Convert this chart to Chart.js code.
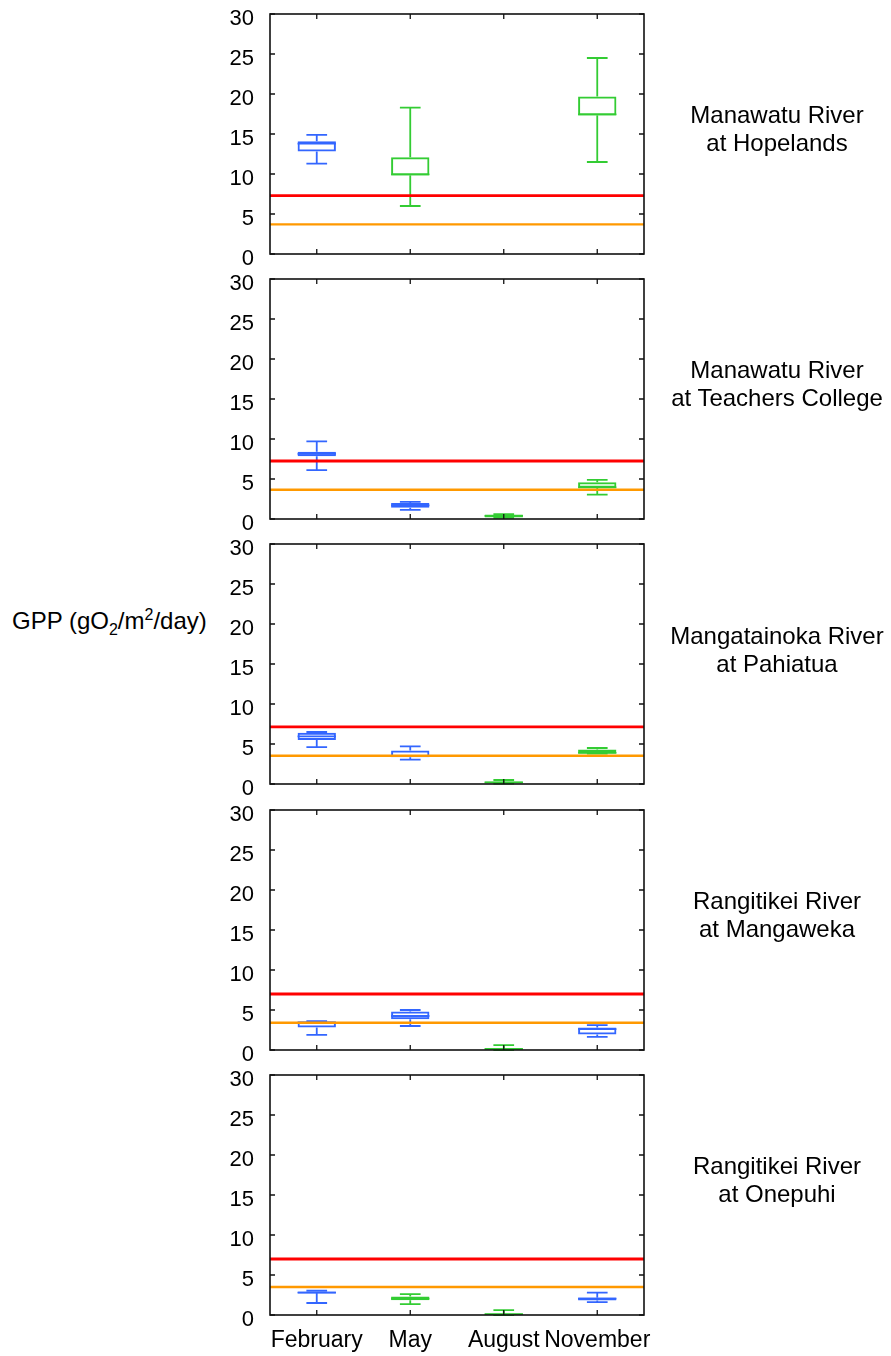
<!DOCTYPE html>
<html>
<head>
<meta charset="utf-8">
<script src="https://cdn.jsdelivr.net/npm/chart.js@4.4.1/dist/chart.umd.min.js"></script>
<style>
  body { margin: 0; background: #fff; }
  #page { position: relative; width: 891px; height: 1356px; overflow: hidden;
          font-family: 'Liberation Sans', Arial, sans-serif; color: #000; }
  canvas { position: absolute; left: 0; }
  .site { position: absolute; left: 657px; width: 240px; text-align: center;
          font-size: 24px; line-height: 28px; white-space: nowrap; }
  #ytitle { position: absolute; left: 12px; top: 607px; font-size: 24px; line-height: 28px; white-space: nowrap; }
  #ytitle sub, #ytitle sup { font-size: 16px; line-height: 0; }
</style>
</head>
<body>
<div id="page">
  <div id="ytitle">GPP (gO<sub>2</sub>/m<sup>2</sup>/day)</div>
</div>
<script>
// categories + panel names
const months = ['February', 'May', 'August', 'November'];
const sites = [
  ['Manawatu River', 'at Hopelands'],
  ['Manawatu River', 'at Teachers College'],
  ['Mangatainoka River', 'at Pahiatua'],
  ['Rangitikei River', 'at Mangaweka'],
  ['Rangitikei River', 'at Onepuhi'],
];
const yTicks = [0, 5, 10, 15, 20, 25, 30];

// box plot stats, one row per site (null = no sample)
const whiskerLow  = [[11.3, 6.0, null, 11.5], [6.1, 1.15, 0.15, 3.05], [4.6, 3.05, 0.05, 3.8], [1.9, 3.0, 0.0, 1.65], [1.5, 1.35, 0.0, 1.6]];
const quart1      = [[12.8, 9.8, null, 17.3], [7.85, 1.4, 0.2, 3.9],  [5.5, 3.35, 0.1, 3.8],  [2.8, 3.85, 0.05, 1.95], [2.7, 1.85, 0.05, 1.8]];
const median      = [[13.8, 9.95, null, 17.45], [8.15, 1.7, 0.4, 3.95], [5.95, 3.5, 0.2, 3.9], [3.45, 4.25, 0.15, 2.6], [2.8, 2.05, 0.1, 2.05]];
const quart3      = [[14.1, 12.1, null, 19.7], [8.4, 2.0, 0.55, 4.6],  [6.4, 4.2, 0.3, 4.3],   [3.55, 4.8, 0.2, 2.8],  [2.95, 2.3, 0.2, 2.2]];
const whiskerHigh = [[14.9, 18.3, null, 24.5], [9.7, 2.15, 0.6, 4.9],  [6.5, 4.7, 0.5, 4.5],   [3.6, 5.0, 0.6, 3.1],   [3.05, 2.6, 0.6, 2.8]];
const boxGroup    = [['b', 'g', null, 'g'], ['b', 'b', 'g', 'g'], ['b', 'b', 'g', 'g'], ['b', 'b', 'g', 'b'], ['b', 'g', 'g', 'b']];

// guideline levels per site
const redLine    = [7.3, 7.25, 7.15, 7.0, 7.0];
const orangeLine = [3.7, 3.66, 3.53, 3.4, 3.5];

const groupColor = { b: '#3366ff', g: '#33cc33' };
const panelTop = [14, 279, 544, 810, 1075];   // plot area top of each panel
const labelMid = [129, 384, 650, 915, 1180];
const PLOT_H = 240, PAD = 34, X_AXIS_H = 41;

// whiskers + median on top of the floating bars
const whiskerPlugin = {
  id: 'whiskers',
  afterDatasetsDraw(chart, args, opts) {
    const p = opts.panel;
    const { ctx, scales: { x, y } } = chart;
    const meta = chart.getDatasetMeta(0);
    ctx.save();
    months.forEach((m, i) => {
      if (median[p][i] == null) return;
      const cx = x.getPixelForValue(i);
      const half = meta.data[i].width / 2;
      const cap = meta.data[i].width * 0.27;
      ctx.strokeStyle = groupColor[boxGroup[p][i]];
      ctx.lineWidth = 1.8;
      ctx.beginPath();
      ctx.moveTo(cx, y.getPixelForValue(quart3[p][i]));
      ctx.lineTo(cx, y.getPixelForValue(whiskerHigh[p][i]));
      ctx.moveTo(cx, y.getPixelForValue(quart1[p][i]));
      ctx.lineTo(cx, y.getPixelForValue(whiskerLow[p][i]));
      ctx.moveTo(cx - cap, y.getPixelForValue(whiskerHigh[p][i]));
      ctx.lineTo(cx + cap, y.getPixelForValue(whiskerHigh[p][i]));
      ctx.moveTo(cx - cap, y.getPixelForValue(whiskerLow[p][i]));
      ctx.lineTo(cx + cap, y.getPixelForValue(whiskerLow[p][i]));
      ctx.moveTo(cx - half, y.getPixelForValue(median[p][i]));
      ctx.lineTo(cx + half, y.getPixelForValue(median[p][i]));
      ctx.stroke();
    });

    // horizontal guideline levels
    const a = chart.chartArea;
    [[redLine[p], '#ff0000', 2.8], [orangeLine[p], '#ff9900', 2.4]].forEach(([v, c, w]) => {
      const py = y.getPixelForValue(v);
      ctx.strokeStyle = c;
      ctx.lineWidth = w;
      ctx.beginPath();
      ctx.moveTo(a.left, py);
      ctx.lineTo(a.right, py);
      ctx.stroke();
    });
    ctx.restore();
  }
};

// gnuplot-ish border with inward mirrored ticks
const framePlugin = {
  id: 'frame',
  afterDraw(chart) {
    const { ctx, chartArea: a, scales: { x, y } } = chart;
    ctx.save();
    ctx.strokeStyle = '#111';
    ctx.lineWidth = 1.6;
    ctx.strokeRect(a.left, a.top, a.right - a.left, a.bottom - a.top);
    ctx.lineWidth = 1.3;
    ctx.beginPath();
    yTicks.forEach(v => {
      const py = y.getPixelForValue(v);
      ctx.moveTo(a.left, py); ctx.lineTo(a.left + 5, py);
      ctx.moveTo(a.right, py); ctx.lineTo(a.right - 5, py);
    });
    months.forEach((m, i) => {
      const px = x.getPixelForValue(i);
      ctx.moveTo(px, a.bottom); ctx.lineTo(px, a.bottom - 5);
      ctx.moveTo(px, a.top); ctx.lineTo(px, a.top + 5);
    });
    ctx.stroke();
    ctx.restore();
  }
};

const page = document.getElementById('page');

sites.forEach((site, p) => {
  const last = p === sites.length - 1;
  const top = panelTop[p] - PAD;
  const h = last ? 1356 - top : PAD + PLOT_H + PAD;
  const canvas = document.createElement('canvas');
  canvas.width = 891;
  canvas.height = h;
  canvas.style.top = top + 'px';
  page.appendChild(canvas);

  const label = document.createElement('div');
  label.className = 'site';
  label.style.top = (labelMid[p] - 28) + 'px';
  label.innerHTML = site.join('<br>');
  page.appendChild(label);

  new Chart(canvas.getContext('2d'), {
    type: 'bar',
    data: {
      labels: months,
      datasets: [{
        data: months.map((m, i) => quart1[p][i] == null ? null : [quart1[p][i], quart3[p][i]]),
        borderColor: boxGroup[p].map(g => g ? groupColor[g] : 'transparent'),
        backgroundColor: 'rgba(0,0,0,0)',
        borderWidth: 2,
        borderSkipped: false,
        barPercentage: 0.41,
        categoryPercentage: 1.0,
      }],
    },
    options: {
      responsive: false,
      animation: false,
      layout: { padding: { top: PAD, left: 0, right: 891 - 644, bottom: last ? h - PAD - PLOT_H - X_AXIS_H : PAD } },
      scales: {
        x: {
          offset: true,
          grid: { display: false, drawTicks: false },
          border: { display: false },
          ticks: {
            display: last,
            color: '#000',
            padding: 12,
            autoSkip: false,
            maxRotation: 0,
            font: { family: "'Liberation Sans', Arial, sans-serif", size: 23 },
          },
          afterFit: s => { s.height = last ? X_AXIS_H : 0; },
        },
        y: {
          min: yTicks[0],
          max: yTicks[yTicks.length - 1],
          grid: { display: false, drawTicks: false },
          border: { display: false },
          ticks: {
            stepSize: yTicks[1] - yTicks[0],
            color: '#000',
            padding: 16,
            labelOffset: 5,
            font: { family: "'Liberation Sans', Arial, sans-serif", size: 22 },
          },
          afterFit: s => { s.width = 270; },
        },
      },
      plugins: {
        legend: { display: false },
        tooltip: { enabled: false },
        whiskers: { panel: p },
      },
    },
    plugins: [whiskerPlugin, framePlugin],
  });
});
</script>
</body>
</html>
